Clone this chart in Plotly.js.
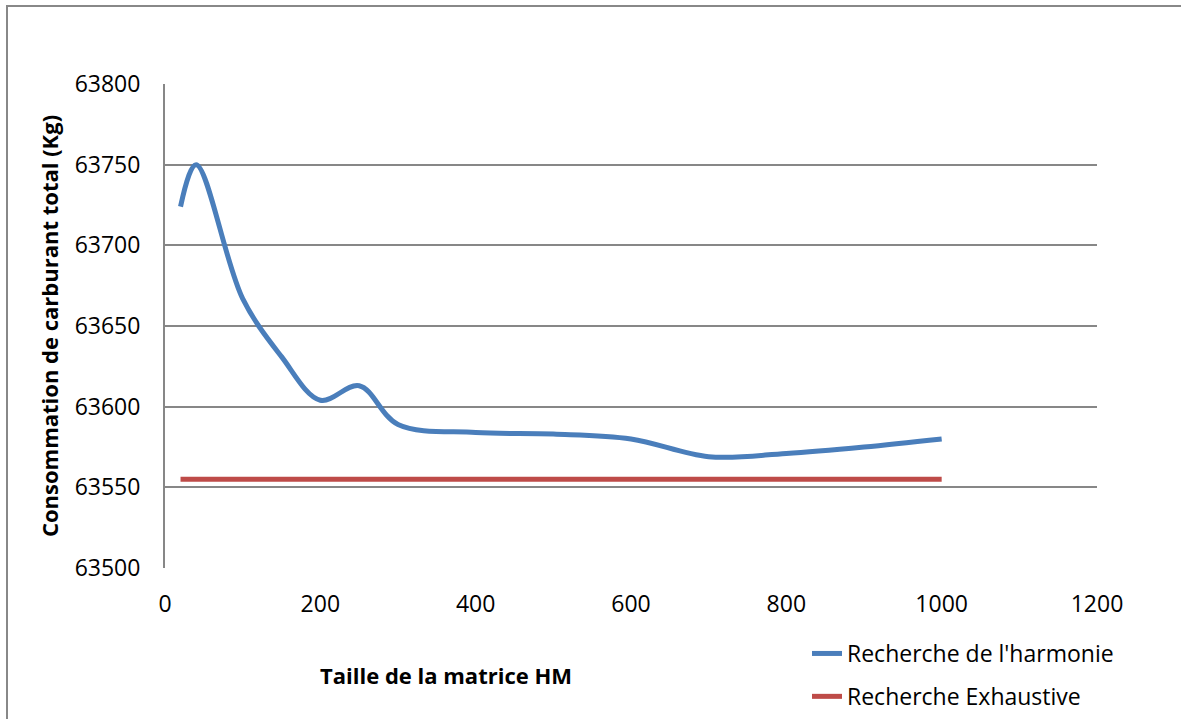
<!DOCTYPE html>
<html>
<head>
<meta charset="utf-8">
<script src="https://cdn.plot.ly/plotly-3.0.1.min.js"></script>
<style>
  html, body { margin: 0; padding: 0; background: #fff; overflow: hidden; }
  #chart { width: 1181px; height: 719px; }
  #frame { position: absolute; left: 6px; top: 5px; width: 3000px; height: 3000px;
           border: 2px solid #888; pointer-events: none; }
</style>
</head>
<body>
<div id="chart"></div>
<div id="frame"></div>
<script>
// Data
const matrixSize = [20, 40, 100, 150, 200, 250, 300, 400, 500, 600, 700, 800, 900, 1000];
const harmonySearch = [63724, 63750, 63667, 63631, 63604, 63613, 63589, 63584, 63583, 63580, 63569, 63571, 63575, 63580];
const exhaustiveSize = [20, 1000];
const exhaustiveSearch = [63555, 63555];
const seriesNames = ["Recherche de l'harmonie", "Recherche Exhaustive"];
const xTitle = "Taille de la matrice HM";
const yTitle = "Consommation de carburant total (Kg)";

const FONT = "Open Sans, Noto Sans, sans-serif";

const traces = [
  {
    x: matrixSize, y: harmonySearch, name: seriesNames[0], type: 'scatter', mode: 'lines',
    line: { color: '#4A7EBB', width: 5, shape: 'spline', smoothing: 1 },
    legendgroup: 'a'
  },
  {
    x: exhaustiveSize, y: exhaustiveSearch, name: seriesNames[1], type: 'scatter', mode: 'lines',
    line: { color: '#BE4B48', width: 5 },
    legendgroup: 'b'
  }
];

const layout = {
  width: 1181, height: 719,
  margin: { l: 165, r: 84, t: 84, b: 151, autoexpand: false },
  paper_bgcolor: '#fff', plot_bgcolor: '#fff',
  font: { family: FONT, size: 23, color: '#000' },
  showlegend: true,
  legend: {
    x: (807 - 165) / 932, xanchor: 'left', y: -(632 - 568) / 484, yanchor: 'top',
    traceorder: 'grouped', tracegroupgap: 10,
    font: { family: FONT, size: 23, color: '#000' },
    bgcolor: 'rgba(0,0,0,0)'
  },
  xaxis: {
    range: [0, 1200], dtick: 200, tick0: 0,
    showgrid: false, zeroline: false,
    showline: false, ticks: '',
    ticklabelstandoff: 20,
    tickfont: { family: FONT, size: 23 }
  },
  yaxis: {
    range: [63500, 63800], dtick: 50, tick0: 63500,
    showgrid: true, gridcolor: '#878787', gridwidth: 2,
    zeroline: false,
    showline: true, linecolor: '#878787', linewidth: 2,
    ticks: '', ticklabelstandoff: 18,
    tickformat: 'd',
    tickfont: { family: FONT, size: 23 },
    title: { text: yTitle, font: { family: FONT, size: 22, weight: 'bold' }, standoff: 10 }
  },
  annotations: [
    {
      text: xTitle, xref: 'paper', yref: 'paper',
      x: (446 - 165) / 932, y: -(675 - 568) / 484,
      xanchor: 'center', yanchor: 'middle', showarrow: false,
      font: { family: FONT, size: 22, weight: 'bold', color: '#000' }
    }
  ]
};

Plotly.newPlot('chart', traces, layout, { displayModeBar: false, staticPlot: true });
</script>
</body>
</html>
